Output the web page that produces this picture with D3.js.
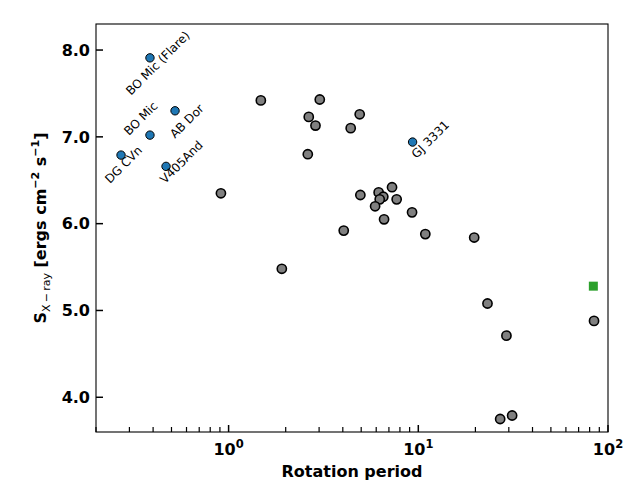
<!DOCTYPE html>
<html>
<head>
<meta charset="utf-8">
<script src="https://cdn.jsdelivr.net/npm/d3@7"></script>
<style>
  body { margin: 0; background: #fff; }
  svg { font-family: "DejaVu Sans", sans-serif; display: block; }
</style>
</head>
<body>
<div id="wrapper"></div>
<script>
/* DATA */
const grayPeriod = [0.911, 1.479, 1.908, 2.646, 3.024, 2.871, 2.615, 4.402, 4.91, 4.045, 4.95, 6.18, 6.54, 6.26, 5.92, 7.27, 7.69, 6.60, 9.27, 10.89, 19.71, 23.16, 29.15, 27.01, 31.23, 84.4]
const grayFlux = [6.35, 7.42, 5.48, 7.23, 7.43, 7.13, 6.80, 7.10, 7.26, 5.92, 6.33, 6.36, 6.31, 6.28, 6.20, 6.42, 6.28, 6.05, 6.13, 5.88, 5.84, 5.08, 4.71, 3.75, 3.79, 4.88]

const starNames = ['BO Mic (Flare)', 'BO Mic', 'AB Dor', 'DG CVn', 'V405And', 'GJ 3331']
const starPeriod = [0.385, 0.385, 0.522, 0.271, 0.468, 9.33]
const starFlux = [7.91, 7.02, 7.30, 6.79, 6.66, 6.94]

const squarePeriod = [83.7]
const squareFlux = [5.28]

const yTickValues = [4.0, 5.0, 6.0, 7.0, 8.0]
const xMajorExponents = [0, 1, 2]

function drawChart() {
  /* CHART DIMENSIONS */
  const dimensions = {
    width: 640,
    height: 480,
    margin: { top: 24, right: 32, bottom: 48, left: 96 },
  }
  dimensions.boundedWidth = dimensions.width - (dimensions.margin.left + dimensions.margin.right)
  dimensions.boundedHeight = dimensions.height - (dimensions.margin.top + dimensions.margin.bottom)

  /* SCALES */
  const xScale = d3.scaleLog()
    .domain([0.2, 100])
    .range([0, dimensions.boundedWidth])

  const yScale = d3.scaleLinear()
    .domain([3.6, 8.3])
    .range([dimensions.boundedHeight, 0])

  const svg = d3.select('#wrapper')
    .append('svg')
    .attr('width', dimensions.width)
    .attr('height', dimensions.height)

  const bounds = svg.append('g')
    .attr('transform', `translate(${dimensions.margin.left} ${dimensions.margin.top})`)

  /* AXES (ticks point inward) */
  const majorLen = 7, minorLen = 5

  const majorValues = xMajorExponents.map(e => Math.pow(10, e))
  const minorValues = xScale.ticks().filter(v => !majorValues.some(m => Math.abs(m - v) < 1e-9))

  const xAxisGroup = bounds.append('g')
    .attr('transform', `translate(0 ${dimensions.boundedHeight})`)

  xAxisGroup.selectAll('line.minor')
    .data(minorValues)
    .enter()
    .append('line')
    .attr('class', 'minor')
    .attr('x1', d => xScale(d)).attr('x2', d => xScale(d))
    .attr('y1', 0).attr('y2', -minorLen)
    .attr('stroke', '#000').attr('stroke-width', 1.2)

  xAxisGroup.selectAll('line.major')
    .data(majorValues)
    .enter()
    .append('line')
    .attr('class', 'major')
    .attr('x1', d => xScale(d)).attr('x2', d => xScale(d))
    .attr('y1', 0).attr('y2', -majorLen)
    .attr('stroke', '#000').attr('stroke-width', 1.5)

  const xLabels = xAxisGroup.selectAll('text')
    .data(xMajorExponents)
    .enter()
    .append('text')
    .attr('x', d => xScale(Math.pow(10, d)))
    .attr('y', 23)
    .attr('text-anchor', 'middle')
    .attr('font-size', 16)
    .attr('font-weight', 'bold')
  xLabels.append('tspan').text('10')
  xLabels.append('tspan')
    .attr('dy', -7)
    .attr('font-size', 11.5)
    .text(d => d)

  const yAxisGroup = bounds.append('g')

  yAxisGroup.selectAll('line')
    .data(yTickValues)
    .enter()
    .append('line')
    .attr('x1', 0).attr('x2', majorLen)
    .attr('y1', d => yScale(d)).attr('y2', d => yScale(d))
    .attr('stroke', '#000').attr('stroke-width', 1.5)

  yAxisGroup.selectAll('text')
    .data(yTickValues)
    .enter()
    .append('text')
    .attr('x', -6)
    .attr('y', d => yScale(d))
    .attr('dy', '0.36em')
    .attr('text-anchor', 'end')
    .attr('font-size', 16)
    .attr('font-weight', 'bold')
    .text(d3.format('.1f'))

  /* FRAME */
  bounds.append('rect')
    .attr('width', dimensions.boundedWidth)
    .attr('height', dimensions.boundedHeight)
    .attr('fill', 'none')
    .attr('stroke', '#000')
    .attr('stroke-width', 1.1)

  /* DATA MARKS */
  bounds.append('g')
    .selectAll('circle')
    .data(d3.range(grayPeriod.length))
    .enter()
    .append('circle')
    .attr('cx', i => xScale(grayPeriod[i]))
    .attr('cy', i => yScale(grayFlux[i]))
    .attr('r', 4.6)
    .attr('fill', '#808080')
    .attr('stroke', '#000')
    .attr('stroke-width', 1.6)

  bounds.append('g')
    .selectAll('circle')
    .data(d3.range(starNames.length))
    .enter()
    .append('circle')
    .attr('cx', i => xScale(starPeriod[i]))
    .attr('cy', i => yScale(starFlux[i]))
    .attr('r', 4.2)
    .attr('fill', '#1f77b4')
    .attr('stroke', '#000')
    .attr('stroke-width', 1)

  const squareSize = 9
  bounds.append('g')
    .selectAll('rect')
    .data(d3.range(squarePeriod.length))
    .enter()
    .append('rect')
    .attr('x', i => xScale(squarePeriod[i]) - squareSize / 2)
    .attr('y', i => yScale(squareFlux[i]) - squareSize / 2)
    .attr('width', squareSize)
    .attr('height', squareSize)
    .attr('fill', '#2ca02c')

  // label offsets (px) of the text start from each named star
  const labelOffsets = [[-19, 38], [-21, 1], [0, 28], [-11, 29], [-1, 18], [4, 17]]

  bounds.append('g')
    .selectAll('text')
    .data(d3.range(starNames.length))
    .enter()
    .append('text')
    .attr('transform', i => {
      const x = xScale(starPeriod[i]) + labelOffsets[i][0]
      const y = yScale(starFlux[i]) + labelOffsets[i][1]
      return `translate(${x} ${y}) rotate(-45)`
    })
    .attr('font-size', 12)
    .attr('fill', '#000')
    .text(i => starNames[i])

  /* AXIS TITLES */
  svg.append('text')
    .attr('x', dimensions.margin.left + dimensions.boundedWidth / 2)
    .attr('y', 477)
    .attr('text-anchor', 'middle')
    .attr('font-size', 16)
    .attr('font-weight', 'bold')
    .text('Rotation period')

  const yTitle = svg.append('text')
    .attr('transform', `translate(46 ${dimensions.margin.top + dimensions.boundedHeight / 2}) rotate(-90)`)
    .attr('text-anchor', 'middle')
    .attr('font-size', 16)
    .attr('font-weight', 'bold')

  yTitle.append('tspan').text('S')
  yTitle.append('tspan').attr('dy', 4).attr('font-size', 11).attr('font-weight', 'normal').text('X\u2009\u2212\u2009ray')
  yTitle.append('tspan').attr('dy', -4).text(' [ergs cm')
  yTitle.append('tspan').attr('dy', -7).attr('font-size', 11).text('\u22122')
  yTitle.append('tspan').attr('dy', 7).text(' s')
  yTitle.append('tspan').attr('dy', -7).attr('font-size', 11).text('\u22121')
  yTitle.append('tspan').attr('dy', 7).text(']')
}

drawChart();
</script>
</body>
</html>
